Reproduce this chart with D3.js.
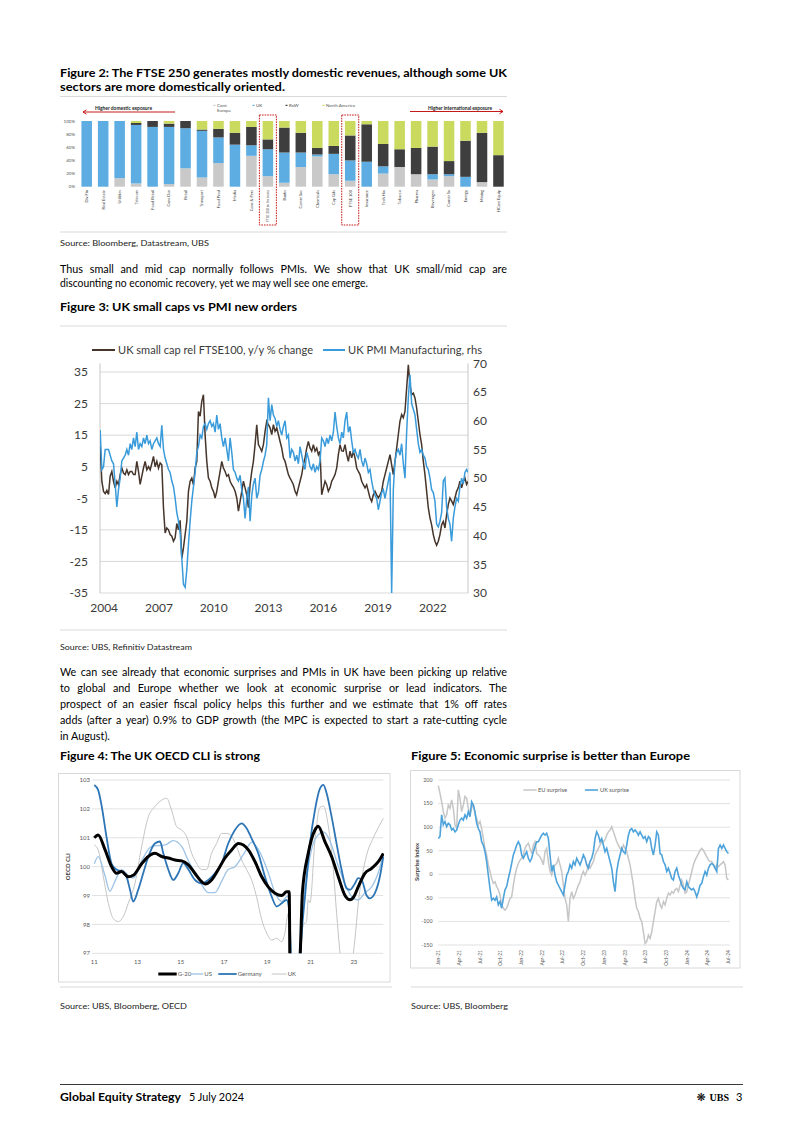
<!DOCTYPE html>
<html><head><meta charset="utf-8">
<script src="https://cdn.jsdelivr.net/npm/d3@7"></script>
<style>body{margin:0;background:#fff}svg{display:block}</style>
</head><body>
<svg id="page" width="802" height="1134"></svg>
<script>
// ---------------- DATA ----------------
// Figure 2: revenue exposure (%), stacked bottom->top
const fig2Sectors = ["Div Fin","Real Estate","Utilities","Telecom","Food Retail","Cons Dur","Retail","Transport","Food Prod","Media","Cons & Pers","FTSE 250 ex Inv trusts","Banks","Comm Svc","Chemicals","Cap Gds","FTSE 100","Insurance","Tech Hw","Tobacco","Pharma","Beverages","Constr Sv","Energy","Mining","HCare Equip"];
const fig2ContEurope = [0,0,13,5,0,4,28,14,36,0,47,16,6,30,46,19,9,0,20,30,19,11,16,0,7,0];
const fig2UK = [100,100,87,89,91,87,61,71,39,64,16,41,46,22,3,31,31,38,11,0,0,8,3,15,0,0];
const fig2RoW = [0,0,0,3,9,5,11,2,13,18,28,15,38,30,10,12,38,57,34,27,40,42,20,55,75,48];
const fig2NorthAmerica = [0,0,0,3,0,4,0,13,12,18,9,28,10,18,41,38,22,5,35,43,41,39,61,30,18,52];
const fig2YTicks = [0,20,40,60,80,100];

// Figure 3: sampled series (start year, step in years)
const fig3Start = 2003.81, fig3Step = 0.0912;
const fig3SmallCap = [11.5,0.4,-2.8,-3.5,-2.5,-3.8,2,3.5,0.4,-1.7,0.4,-0.7,2.5,4.6,3,2.5,4,2.5,3.5,3.5,2.5,2.5,6.7,3.5,-0.6,2,4.6,6.7,4,5,4,6,8.3,5,6.7,4.5,6.2,5.6,-8,-16,-14.4,-15,-16.5,-17,-18.6,-17.5,-13,-15,-12,-24,-20.7,-16.5,-12.3,-2.8,0.4,1.4,-0.7,4.6,6.7,22.5,21,25.7,27.8,15,6.7,1.4,0.4,-1.7,-2.8,-4.9,-2.8,0.4,3.5,6.7,4.6,3.5,2,2.5,0.4,-0.7,-1.5,-2.8,-4.9,-9.1,-6,-2.8,0.4,-1.7,-3.9,-8,-0.7,3.5,6.7,12,18.3,12,11,9.9,12,16.2,19.4,18.3,17.3,15.2,18.3,16.2,17.3,15.2,13,10.9,7.8,6.7,4.6,2.5,1.4,0.4,-0.7,-2.8,-3.9,-1.7,0.4,2.5,5.6,7.8,10.9,13,10.9,9.9,12,9.9,10.9,8.8,9.9,-3.9,-1.7,0.4,-0.7,-2.8,-1.7,0.4,1.4,2.5,4.6,8.8,12,10,9.9,12,8.8,6.7,9.9,7.8,9.9,7.8,4.6,3.5,2.5,0.4,-0.7,-1.7,-0.7,-2.8,-4.9,-6,-3.9,-2.8,-3.9,-4.9,-3.9,-2.8,0.4,2.5,4.6,6.7,8.8,5.6,2.5,6.7,10.9,15.2,19.4,21.5,20.5,22.5,29.9,37.3,31,27.8,28.3,26.8,23.6,19.4,15.2,12,6.7,2.5,-2.8,-8,-11.2,-13.4,-16.5,-18.6,-19.9,-18.6,-16.5,-13.4,-12.3,-14.4,-10.2,-7,-4.9,-5.9,-7,-4.9,-2.8,-1.7,0.4,-1.7,0.4,1.4,-0.6,0.4];
const fig3PMI = [58.4,51.5,52,55,55,55,54,53,52.5,49,45,48,50,53,53.5,54,55,54,56,55,57,55.5,58,55,56,55.5,57,56,57.5,56,56.5,55,56,56.5,57,56,55.5,59.2,55,53.5,52.5,51.5,51,49.5,48.5,46.5,44,42.5,40.5,36,31.5,31,34,38.5,42.5,46,48.5,51,54.5,55.5,57.5,57,59,59.5,58.5,59.5,60,59,59.5,58,61,58.5,59.5,57,55.5,57,55,53,57,54.5,51.5,51,50,49.5,50.5,48,46.5,43,46.5,48.5,42.5,47,49,50,46.5,47.5,50.5,51.5,52.9,54,55.8,64,60,62.8,61,60.4,59,60,58.5,57.5,59,60,57,57.5,53.5,55,54.5,53,54,52.5,55.5,54,52.5,51.5,54.5,53.5,52,51.5,52.5,51,52,51.5,53,57,56.5,55.5,57,56,57.5,56.5,58,61.5,59,57,56,58,57,60,61.5,58,59,56.5,54.5,55,54,53.5,55,53,52,53.5,52.5,51,51.5,49.5,48,47,46.5,44.5,46,47.5,48,46.5,48,49.5,51,30,48,53,54.5,55,54,56,52.5,50,58,64,68,63,62,61,58.5,56,54.5,55,54,53.5,52,51.5,50,48,47.5,46,42,41.5,42.5,44,49.5,50,45,43,42,39,43,45,46.5,46,48.5,50,49,51,51.5,51];
const fig3LeftTicks = [-35,-25,-15,-5,5,15,25,35];
const fig3RightTicks = [30,35,40,45,50,55,60,65,70];
const fig3Years = [2004,2007,2010,2013,2016,2019,2022];

// Figure 4: OECD CLI, [year (yy), value]
const fig4G20 = [[11.00,101.0],[11.18,101.1],[11.49,100.6],[11.80,100.0],[12.03,99.77],[12.26,99.83],[12.57,99.65],[12.80,99.7],[13.19,100.1],[13.50,100.35],[13.80,100.46],[14.11,100.35],[14.42,100.3],[14.73,100.23],[15.04,100.2],[15.35,100.06],[15.65,99.77],[15.96,99.48],[16.12,99.4],[16.42,99.54],[16.73,99.9],[17.04,100.3],[17.35,100.58],[17.66,100.8],[17.89,100.75],[18.12,100.58],[18.43,100.17],[18.74,99.65],[19.04,99.3],[19.35,99.08],[19.66,99.0],[19.89,99.13],[20.01,99.13],[20.05,96.0],[20.2,93.0],[20.4,95.5],[20.53,97.2],[20.62,99.1],[20.89,100.46],[21.20,101.27],[21.35,101.4],[21.66,100.87],[21.97,100.35],[22.28,99.65],[22.59,99.0],[22.82,98.85],[23.00,98.96],[23.20,99.3],[23.51,99.77],[23.82,99.94],[24.13,100.17],[24.36,100.46]];
const fig4US = [[11.00,100.1],[11.18,100.35],[11.49,99.7],[11.72,99.15],[11.96,99.5],[12.26,99.9],[12.57,99.7],[12.80,99.6],[13.19,100.2],[13.65,100.7],[14.27,100.75],[14.65,100.9],[15.04,100.7],[15.35,100.2],[15.81,99.6],[16.27,99.1],[16.58,99.1],[16.89,99.5],[17.19,99.9],[17.50,100.0],[17.96,100.5],[18.27,100.85],[18.58,100.6],[19.04,99.8],[19.35,99.1],[19.66,98.8],[19.97,99.0],[20.06,96.5],[20.22,94.0],[20.42,96.0],[20.58,98.2],[20.81,99.6],[21.12,100.8],[21.35,101.1],[21.59,101.2],[21.89,100.9],[22.20,100.2],[22.59,99.4],[22.97,98.9],[23.20,98.85],[23.51,99.1],[23.82,99.3],[24.13,99.8],[24.36,100.4]];
const fig4Germany = [[11.00,102.83],[11.18,102.65],[11.34,102.1],[11.57,101.0],[11.80,100.1],[12.03,99.9],[12.26,99.83],[12.49,99.65],[12.65,99.2],[12.80,98.79],[13.03,99.2],[13.26,99.77],[13.50,100.35],[13.80,100.8],[14.04,100.87],[14.19,100.46],[14.42,99.9],[14.65,99.54],[14.88,99.77],[15.11,100.12],[15.35,99.9],[15.65,99.54],[15.96,99.42],[16.27,99.54],[16.58,99.77],[16.89,100.12],[17.19,100.8],[17.50,101.27],[17.81,101.5],[18.04,101.33],[18.27,100.98],[18.58,100.46],[18.89,99.65],[19.20,98.96],[19.43,98.62],[19.66,98.73],[19.89,98.85],[20.01,98.5],[20.12,96.0],[20.28,93.0],[20.45,95.5],[20.58,97.6],[20.74,98.96],[20.97,100.8],[21.20,101.96],[21.43,102.7],[21.59,102.83],[21.74,102.54],[21.97,101.73],[22.20,100.8],[22.43,99.9],[22.66,99.25],[22.82,99.2],[23.05,99.42],[23.20,99.6],[23.36,99.54],[23.59,99.0],[23.74,98.9],[23.97,99.08],[24.20,99.65],[24.36,100.35]];
const fig4UKCli = [[11.00,100.75],[11.18,100.58],[11.42,99.65],[11.65,98.73],[11.88,98.2],[12.11,98.1],[12.34,98.27],[12.57,98.73],[12.88,99.42],[13.19,100.7],[13.50,101.73],[13.80,102.08],[14.11,102.3],[14.34,102.37],[14.57,101.96],[14.81,101.38],[15.04,101.27],[15.27,101.04],[15.50,100.46],[15.73,100.12],[15.96,99.9],[16.19,99.9],[16.42,100.46],[16.65,100.8],[16.89,101.15],[17.12,101.15],[17.35,101.04],[17.58,100.7],[17.81,100.23],[18.04,99.9],[18.27,99.54],[18.50,98.96],[18.74,98.16],[18.97,97.7],[19.20,97.46],[19.43,97.52],[19.66,97.4],[19.81,97.7],[19.97,98.39],[20.10,96.5],[20.30,94.0],[20.50,96.5],[20.66,98.0],[20.81,98.1],[20.89,98.85],[20.97,98.75],[21.20,100.9],[21.43,102.05],[21.59,102.1],[21.82,101.4],[22.05,99.9],[22.20,98.4],[22.36,97.0],[22.51,96.0],[22.74,95.5],[22.90,96.5],[23.05,97.5],[23.20,98.7],[23.59,100.4],[23.90,101.0],[24.20,101.45],[24.36,101.67]];
const fig4YTicks = [97,98,99,100,101,102,103];
const fig4XTicks = [11,13,15,17,19,21,23];

// Figure 5: surprise indices, sampled (step in quarters from Jan-21)
const fig5Step = 0.0805;
const fig5EU = [188,172,154,133,119,126,147,140,158,140,105,97,179,161,133,147,165,161,140,126,140,150,126,119,105,112,97,76,55,41,20,6,-9,-19,-16,-26,-33,-44,-65,-72,-76,-72,-62,-51,-48,-23,-2,13,23,30,34,41,55,62,66,55,44,62,69,44,41,37,30,20,48,55,27,6,-2,13,20,23,34,20,6,-23,-51,-65,-100,-51,-37,-51,-44,-33,-23,-16,-2,6,-2,6,20,13,20,27,41,48,55,62,69,69,73,83,90,94,101,90,80,69,62,55,51,62,55,48,34,20,-2,-23,-51,-72,-79,-93,-100,-122,-147,-143,-129,-136,-122,-100,-79,-58,-51,-65,-72,-58,-65,-51,-40,-44,-37,-40,-33,-30,-37,-23,-12,-23,-40,-37,-23,-9,6,20,30,37,44,51,55,51,44,37,30,27,27,20,13,20,16,20,23,27,20,-9,-12];
const fig5UK = [76,80,126,105,112,101,108,105,94,97,90,94,105,115,119,115,126,119,133,122,154,147,133,108,97,90,69,62,48,27,-2,-30,-55,-51,-55,-48,-65,-58,-72,-51,-33,-26,-9,6,23,41,51,62,69,62,41,34,41,48,34,27,34,48,59,69,69,76,83,87,83,87,76,41,6,20,-2,-16,-23,-30,-37,-44,-23,-2,6,20,13,27,20,34,27,20,30,41,34,20,13,27,34,48,76,90,83,69,76,62,48,55,41,27,13,-16,-37,6,27,41,55,48,44,62,83,94,97,90,94,90,83,90,83,76,80,69,80,76,55,41,62,90,83,44,41,27,20,6,13,2,-9,-12,6,13,-2,-12,-23,-30,-33,-16,-26,-30,-33,-30,-37,-48,-37,-23,-19,-5,6,-2,13,20,23,20,13,6,55,62,55,62,55,48,44];
const fig5Quarters = ["Jan-21","Apr-21","Jul-21","Oct-21","Jan-22","Apr-22","Jul-22","Oct-22","Jan-23","Apr-23","Jul-23","Oct-23","Jan-24","Apr-24","Jul-24"];
const fig5YTicks = [-150,-100,-50,0,50,100,150,200];

// ---------------- HELPERS ----------------
const svg = d3.select('#page');
const F = 'Lato, "Open Sans", "DejaVu Sans", sans-serif';
function fit(t, len, justify) {
  const w = t.node().getComputedTextLength();
  const spaces = (t.text().match(/ /g) || []).length;
  if (justify && w < len && spaces) t.attr('word-spacing', (len - w) / spaces);
  else t.attr('textLength', len).attr('lengthAdjust', 'spacingAndGlyphs');
}
function T(g, x, y, s, o = {}) {
  const t = g.append('text').attr('x', x).attr('y', y).text(s)
    .attr('font-family', o.family || F).attr('font-size', o.size || 11)
    .attr('font-weight', o.weight || 400).attr('fill', o.fill || '#000')
    .attr('text-anchor', o.anchor || 'start');
  if (o.dy) t.attr('dy', o.dy);
  if (o.rotate != null) t.attr('transform', `rotate(${o.rotate},${x},${y})`);
  if (o.len) fit(t, o.len, o.justify);
  return t;
}
function rule(x1, x2, y, c = '#D9D9D9', w = 1) {
  svg.append('line').attr('x1', x1).attr('x2', x2).attr('y1', y).attr('y2', y).attr('stroke', c).attr('stroke-width', w);
}

// ---------------- TEXT ----------------
T(svg, 60, 77, "Figure 2: The FTSE 250 generates mostly domestic revenues, although some UK", {size: 11.5, weight: 700, len: 447});
T(svg, 60, 91, "sectors are more domestically oriented.", {size: 11.5, weight: 700, len: 225});
rule(60, 507, 96.5);
rule(60, 507, 232);
T(svg, 60, 246, "Source: Bloomberg, Datastream, UBS", {size: 8.3, fill: '#222', len: 149});
T(svg, 60, 272.5, "Thus small and mid cap normally follows PMIs. We show that UK small/mid cap are", {size: 10.8, len: 447, justify: true});
T(svg, 60, 287, "discounting no economic recovery, yet we may well see one emerge.", {size: 10.8, len: 308});
T(svg, 60, 311, "Figure 3: UK small caps vs PMI new orders", {size: 11.5, weight: 700, len: 237});
rule(60, 507, 326);
rule(60, 507, 630);
T(svg, 60, 650, "Source: UBS, Refinitiv Datastream", {size: 8.3, fill: '#222', len: 132});
const para2 = ["We can see already that economic surprises and PMIs in UK have been picking up relative",
  "to global and Europe whether we look at economic surprise or lead indicators. The",
  "prospect of an easier fiscal policy helps this further and we estimate that 1% off rates",
  "adds (after a year) 0.9% to GDP growth (the MPC is expected to start a rate-cutting cycle"];
para2.forEach((s, i) => T(svg, 60, 676 + i * 16, s, {size: 10.8, len: 447, justify: true}));
T(svg, 60, 740, "in August).", {size: 10.8});
T(svg, 60, 760, "Figure 4: The UK OECD CLI is strong", {size: 11.5, weight: 700, len: 200});
T(svg, 411, 760, "Figure 5: Economic surprise is better than Europe", {size: 11.5, weight: 700, len: 279});
rule(60, 392, 987);
rule(411, 743, 987);
T(svg, 60, 1009, "Source: UBS, Bloomberg, OECD", {size: 8.3, fill: '#222', len: 127});
T(svg, 411, 1009, "Source: UBS, Bloomberg", {size: 8.3, fill: '#222', len: 97});
rule(60, 743, 1084.5, '#222', 0.9);
T(svg, 60, 1101, "Global Equity Strategy", {size: 11, weight: 700, len: 121});
T(svg, 189, 1101, "5 July 2024", {size: 11, len: 55});
T(svg, 701, 1101, "\u274B", {size: 11, anchor: 'middle', family: '"DejaVu Sans", sans-serif'});
T(svg, 709.5, 1101, "UBS", {size: 11, weight: 700, family: '"Liberation Serif", serif', len: 19.5});
T(svg, 736, 1101, "3", {size: 11});

// ---------------- FIGURE 2 ----------------
const g2 = svg.append('g');
const rows2 = fig2Sectors.map((s, i) => ({sector: s, ce: fig2ContEurope[i], uk: fig2UK[i], row: fig2RoW[i], na: fig2NorthAmerica[i]}));
const keys2 = ['ce', 'uk', 'row', 'na'];
const col2 = {ce: '#C9C9C9', uk: '#5DADE2', row: '#3E3E3E', na: '#CADA5E'};
const x2 = d3.scaleBand().domain(fig2Sectors).range([78.47, 506.7]).paddingInner(0.36).paddingOuter(0.18);
const y2 = d3.scaleLinear().domain([0, 100]).range([186.7, 121]);
const stack2 = d3.stack().keys(keys2)(rows2);
g2.selectAll('g.s').data(stack2).join('g').attr('fill', d => col2[d.key])
  .selectAll('rect').data(d => d).join('rect')
  .attr('x', d => x2(d.data.sector)).attr('width', x2.bandwidth())
  .attr('y', d => y2(d[1])).attr('height', d => y2(d[0]) - y2(d[1]));
fig2YTicks.forEach(v => T(g2, 75, y2(v), v + '%', {size: 4.5, anchor: 'end', dy: '0.35em', fill: '#555'}));
fig2Sectors.forEach(s => {
  const t = T(g2, x2(s) + x2.bandwidth() / 2 + 1.4, 190, s, {size: 4, anchor: 'end', rotate: -90, fill: '#444'});
  if (t.node().getComputedTextLength() > 32) t.attr('textLength', 32).attr('lengthAdjust', 'spacingAndGlyphs');
});
// legend
const leg2 = [['ce', 'Cont.', 216], ['uk', 'UK', 255], ['row', 'RoW', 288], ['na', 'North America', 325]];
leg2.forEach(([k, lab, x]) => {
  g2.append('rect').attr('x', x - 2.5).attr('y', 104.8).attr('width', 2).attr('height', 1.2).attr('fill', col2[k]);
  T(g2, x + 1, 107, lab, {size: 4.5, fill: '#555'});
});
T(g2, 217, 112, 'Europe', {size: 4.5, fill: '#555'});
// annotations
const red = '#C00000';
T(g2, 95, 109.5, 'Higher domestic exposure', {size: 4.6, weight: 700, fill: '#222', len: 57});
g2.append('path').attr('d', 'M175,112H83M86.5,109.8L83,112L86.5,114.2').attr('stroke', red).attr('stroke-width', 0.9).attr('fill', 'none');
T(g2, 428, 109.5, 'Higher international exposure', {size: 4.6, weight: 700, fill: '#222', len: 64});
g2.append('path').attr('d', 'M410,111.5H503M499.5,109.3L503,111.5L499.5,113.7').attr('stroke', red).attr('stroke-width', 0.9).attr('fill', 'none');
['FTSE 250 ex Inv trusts', 'FTSE 100'].forEach(s => {
  const cx = x2(s) + x2.bandwidth() / 2;
  g2.append('rect').attr('x', cx - 8.5).attr('y', 115).attr('width', 17).attr('height', 110)
    .attr('fill', 'none').attr('stroke', red).attr('stroke-width', 0.9).attr('stroke-dasharray', '1.6,1');
});

// ---------------- FIGURE 3 ----------------
const g3 = svg.append('g');
const x3 = d3.scaleLinear().domain([2003.8, 2023.95]).range([100, 468]);
const yL = d3.scaleLinear().domain([-35, 35]).range([593, 372]);
const yR = d3.scaleLinear().domain([30, 70]).range([593, 363.3]);
fig3LeftTicks.forEach(v => g3.append('line').attr('x1', 100).attr('x2', 468).attr('y1', yL(v)).attr('y2', yL(v)).attr('stroke', '#D9D9D9'));
[100, 468].forEach(x => g3.append('line').attr('x1', x).attr('x2', x).attr('y1', 363.3).attr('y2', 593).attr('stroke', '#C8C8C8'));
const axStyle = sel => { sel.select('.domain').remove(); sel.selectAll('text').attr('font-family', F).attr('font-size', 12).attr('fill', '#3A3A3A'); };
const plain = d => String(d);
g3.append('g').attr('transform', 'translate(100,0)').call(d3.axisLeft(yL).tickValues(fig3LeftTicks).tickFormat(plain).tickSize(0).tickPadding(12)).call(axStyle);
g3.append('g').attr('transform', 'translate(468,0)').call(d3.axisRight(yR).tickValues(fig3RightTicks).tickFormat(plain).tickSize(0).tickPadding(5)).call(axStyle);
g3.append('g').attr('transform', 'translate(0,593)').call(d3.axisBottom(x3).tickValues(fig3Years).tickFormat(plain).tickSize(0).tickPadding(10.5)).call(axStyle);
svg.append('clipPath').attr('id', 'c3').append('rect').attr('x', 100).attr('y', 360).attr('width', 368).attr('height', 236);
const l3 = yS => d3.line().x((d, i) => x3(fig3Start + i * fig3Step)).y(d => yS(d));
g3.append('path').attr('d', l3(yL)(fig3SmallCap)).attr('fill', 'none').attr('stroke', '#45352B').attr('stroke-width', 1.5).attr('clip-path', 'url(#c3)');
g3.append('path').attr('d', l3(yR)(fig3PMI)).attr('fill', 'none').attr('stroke', '#3A9BDB').attr('stroke-width', 1.5).attr('clip-path', 'url(#c3)');
g3.append('line').attr('x1', 92).attr('x2', 115).attr('y1', 350).attr('y2', 350).attr('stroke', '#45352B').attr('stroke-width', 2);
T(g3, 118, 354, 'UK small cap rel FTSE100, y/y % change', {size: 11.7, fill: '#3A3A3A', len: 195});
g3.append('line').attr('x1', 323).attr('x2', 345).attr('y1', 350).attr('y2', 350).attr('stroke', '#3A9BDB').attr('stroke-width', 2);
T(g3, 348, 354, 'UK PMI Manufacturing, rhs', {size: 11.7, fill: '#3A3A3A', len: 134});

// ---------------- FIGURE 4 ----------------
const g4 = svg.append('g');
g4.append('rect').attr('x', 58.5).attr('y', 773.5).attr('width', 331.5).attr('height', 208.5).attr('fill', 'none').attr('stroke', '#D9D9D9');
const x4 = d3.scaleLinear().domain([11, 24.36]).range([94.3, 383.3]);
const y4 = d3.scaleLinear().domain([97, 103]).range([953.3, 780]);
fig4YTicks.forEach(v => {
  g4.append('line').attr('x1', 92).attr('x2', 383.3).attr('y1', y4(v)).attr('y2', y4(v)).attr('stroke', '#D9D9D9').attr('stroke-width', 0.8);
  T(g4, 90, y4(v), v, {size: 6, anchor: 'end', dy: '0.35em', fill: '#595959'});
});
fig4XTicks.forEach(v => T(g4, x4(v), 964, v, {size: 6, anchor: 'middle', fill: '#595959'}));
T(g4, 70.5, 866.7, 'OECD CLI', {size: 6, weight: 700, anchor: 'middle', rotate: -90, fill: '#404040'});
svg.append('clipPath').attr('id', 'c4').append('rect').attr('x', 92).attr('y', 776).attr('width', 292).attr('height', 177.3);
const l4 = d3.line().x(d => x4(d[0])).y(d => y4(d[1])).curve(d3.curveMonotoneX);
const s4 = [[fig4UKCli, '#C4C4C4', 1], [fig4US, '#9DC3E6', 1.3], [fig4Germany, '#2E75B6', 1.8], [fig4G20, '#000', 3]];
s4.forEach(([d, c, w]) => g4.append('path').attr('d', l4(d)).attr('fill', 'none').attr('stroke', c).attr('stroke-width', w).attr('clip-path', 'url(#c4)'));
const leg4 = [['G-20', '#000', 3, 158.3, 176.7], ['US', '#9DC3E6', 1.3, 190, 203.3], ['Germany', '#2E75B6', 1.8, 218.3, 236.7], ['UK', '#C4C4C4', 1, 271.7, 286.7]];
leg4.forEach(([lab, c, w, a, b]) => {
  g4.append('line').attr('x1', a).attr('x2', b).attr('y1', 974).attr('y2', 974).attr('stroke', c).attr('stroke-width', w);
  T(g4, b + 1, 974, lab, {size: 6, dy: '0.35em', fill: '#595959'});
});

// ---------------- FIGURE 5 ----------------
const g5 = svg.append('g');
g5.append('rect').attr('x', 410.5).attr('y', 770.5).attr('width', 329.5).attr('height', 197.5).attr('fill', 'none').attr('stroke', '#D9D9D9');
const x5 = d3.scaleLinear().domain([0, 14]).range([438.3, 728.3]);
const y5 = d3.scaleLinear().domain([-150, 200]).range([945, 780]);
fig5YTicks.forEach(v => {
  g5.append('line').attr('x1', 438.3).attr('x2', 730).attr('y1', y5(v)).attr('y2', y5(v)).attr('stroke', '#D9D9D9').attr('stroke-width', 0.8);
  T(g5, 432.5, y5(v), v, {size: 5.3, anchor: 'end', dy: '0.35em', fill: '#595959'});
});
fig5Quarters.forEach((q, i) => T(g5, x5(i) + 1.8, 950, q, {size: 5, anchor: 'end', rotate: -90, fill: '#595959'}));
T(g5, 418.5, 862, 'Surprise Index', {size: 6, weight: 700, anchor: 'middle', rotate: -90, fill: '#404040'});
const l5 = d3.line().x((d, i) => x5(i * fig5Step)).y(d => y5(d));
g5.append('path').attr('d', l5(fig5EU)).attr('fill', 'none').attr('stroke', '#C6C6C6').attr('stroke-width', 1.5);
g5.append('path').attr('d', l5(fig5UK)).attr('fill', 'none').attr('stroke', '#4EA3DB').attr('stroke-width', 1.6);
g5.append('line').attr('x1', 523.3).attr('x2', 536.7).attr('y1', 790).attr('y2', 790).attr('stroke', '#C6C6C6').attr('stroke-width', 1.5);
T(g5, 538, 790, 'EU surprise', {size: 5.5, dy: '0.35em', fill: '#595959', len: 29});
g5.append('line').attr('x1', 585).attr('x2', 598).attr('y1', 790).attr('y2', 790).attr('stroke', '#4EA3DB').attr('stroke-width', 1.6);
T(g5, 600, 790, 'UK surprise', {size: 5.5, dy: '0.35em', fill: '#595959', len: 29});
</script>
</body></html>
